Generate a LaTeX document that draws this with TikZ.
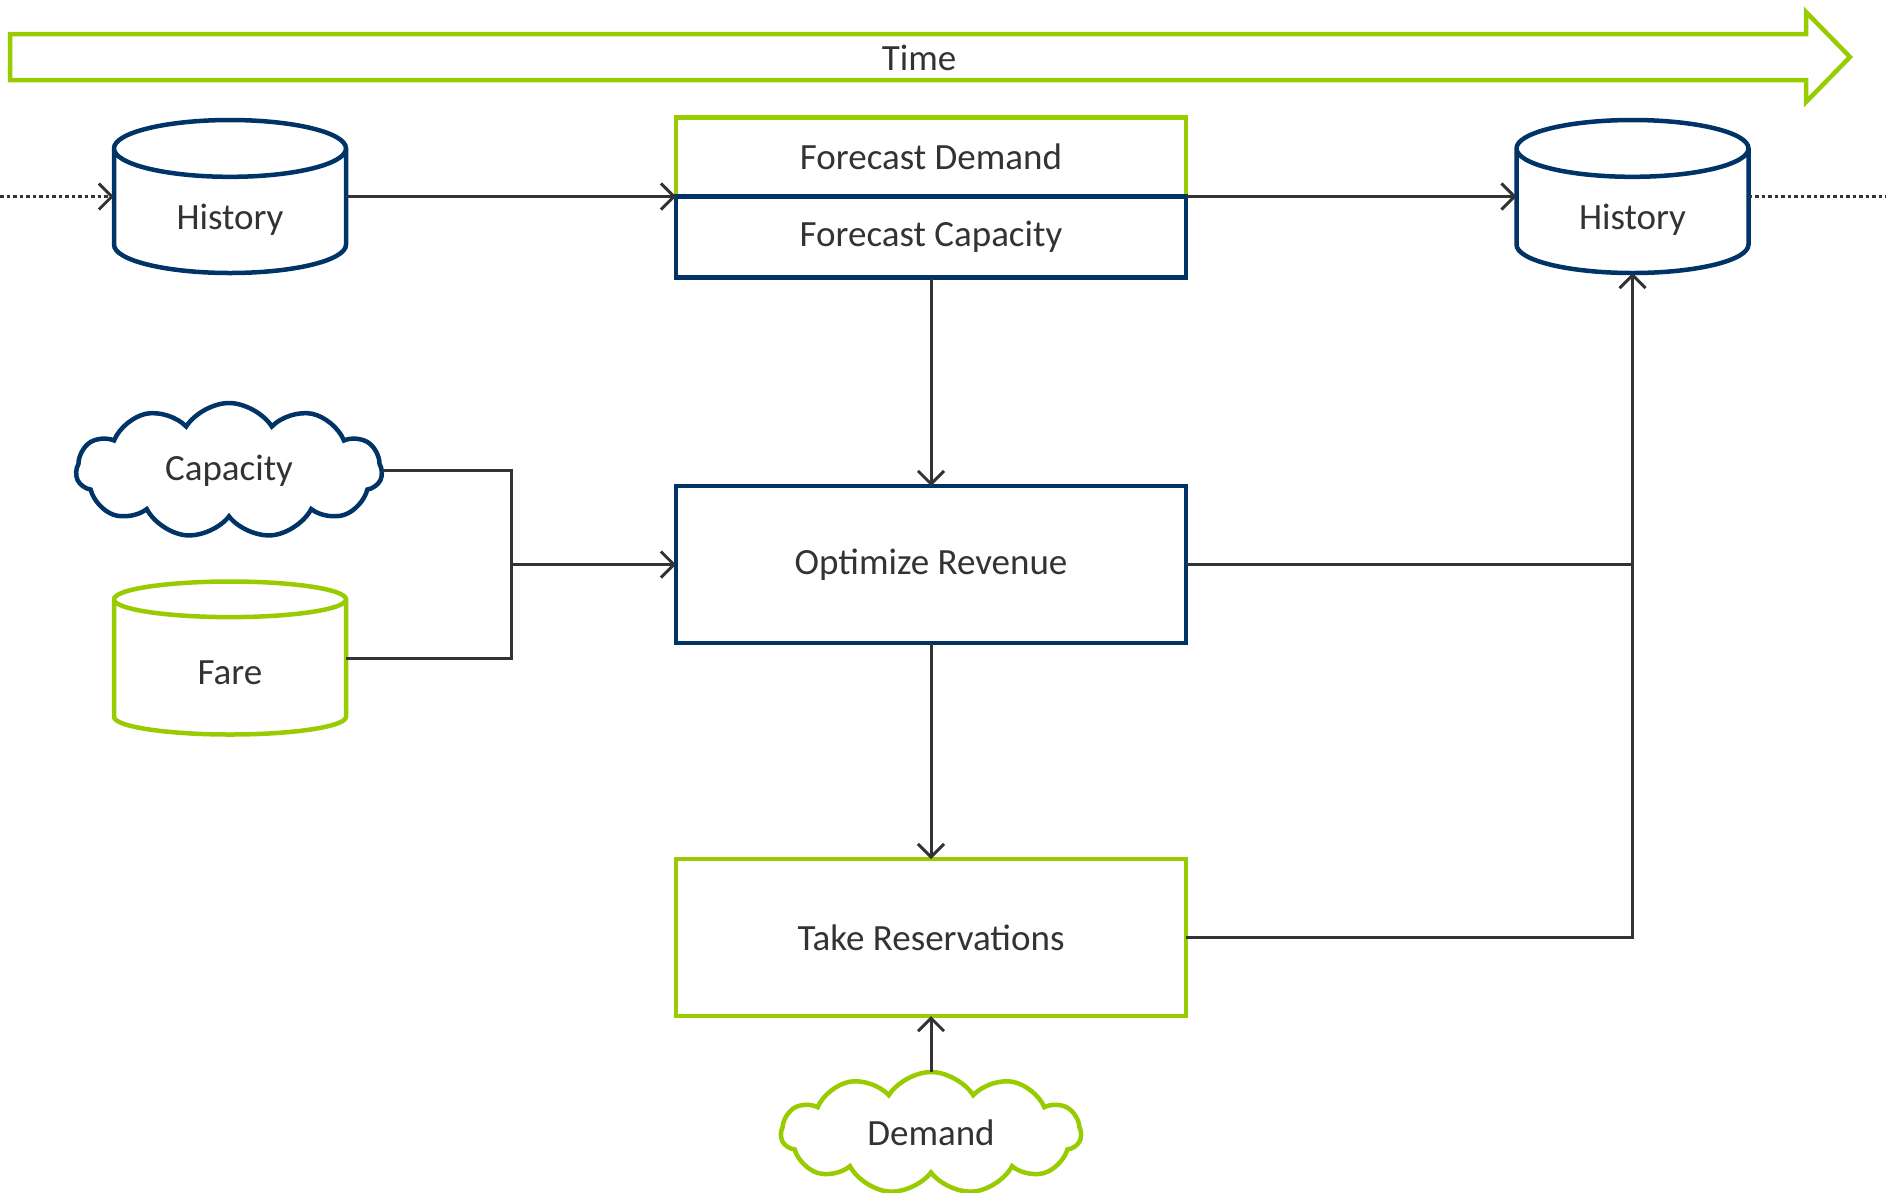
\documentclass[tikz,border=0pt]{standalone}
\usepackage{fontspec}
\setmainfont{Carlito}
\usepackage{xcolor}
\usetikzlibrary{shapes.geometric, shapes.symbols, arrows.meta, positioning}
\definecolor{navy}{RGB}{0,51,102}
\definecolor{lime}{RGB}{153,204,0}
\definecolor{ink}{RGB}{51,51,51}
\tikzset{
  txt/.style={font=\fontsize{37}{44}\selectfont, text=ink},
  box/.style={draw, line width=4.5pt, minimum width=510pt, minimum height=157pt,
              outer sep=0pt, align=center, fill=white, txt},
  navybox/.style={box, draw=navy},
  limebox/.style={box, draw=lime},
  cyl/.style={draw, cylinder, shape border rotate=90, aspect=0.5,
              minimum width=232pt, minimum height=153pt, line width=4.5pt,
              text height=38pt, text depth=9pt,
              outer sep=0pt, fill=white, anchor=shape center, txt},
  cloudbox/.style={draw, cloud, cloud puffs=11, cloud puff arc=115,
                   cloud ignores aspect, minimum width=306pt, minimum height=135pt,
                   line width=4.5pt, outer sep=0pt, fill=white, txt},
  conn/.style={draw=ink, line width=3pt},
  arrow/.style={conn, -{Straight Barb[length=13pt, width=26pt]}},
  dotarrow/.style={arrow, dash pattern=on 3.5pt off 3pt}
}
\begin{document}
\begin{tikzpicture}[x=1pt, y=-1pt]
  \useasboundingbox (0,0) rectangle (1886,1192);

  % Time arrow
  \draw[lime, line width=4.5pt] (10,34) -- (1806,34) -- (1806,12) -- (1850,57)
    -- (1806,102) -- (1806,80) -- (10,80) -- cycle;
  \node[txt] (time) at (919,58) {Time};

  % Forecast
  \node[limebox, minimum height=79pt] (fcd) at (931,157) {Forecast Demand};
  \node[navybox, minimum height=81pt, below=0 of fcd] (fcc) {Forecast Capacity};

  % History
  \node[cyl, draw=navy] (hist1) at (230,196.5) {History};
  \node[cyl, draw=navy] (hist2) at (1632.5,196.5) {History};

  % Inputs
  \node[cloudbox, draw=navy] (cap) at (229,470.5) {Capacity};
  \node[cyl, draw=lime] (fare) at (230,658) {Fare};
  \node[cloudbox, draw=lime, minimum width=300pt, minimum height=122pt] (dem)
    at (931,1133) {Demand};

  % Steps
  \node[navybox] (opt) at (931,564.5) {Optimize Revenue};
  \node[limebox] (tres) at (931,937.5) {Take Reservations};

  \coordinate (lin) at (0,196.5);
  \coordinate (lout) at (1886,196.5);
  \coordinate (jn) at (511,564.5);

  % Arrows
  \draw[dotarrow] (lin) -- (hist1.shape center -| hist1.west);
  \draw[conn, dash pattern=on 3.5pt off 3pt] (hist2.shape center -| hist2.east) -- (lout);
  \draw[arrow] (hist1.shape center -| hist1.east) -- (fcd.south west);
  \draw[arrow] (fcd.south east) -- (hist2.shape center -| hist2.west);
  \draw[arrow] (fcc.south) -- (opt.north);
  \draw[conn] (cap.east) -| (jn);
  \draw[conn] (fare.shape center -| fare.east) -| (jn);
  \draw[arrow] (jn) -- (opt.west);
  \draw[arrow] (opt.south) -- (tres.north);
  \draw[arrow] (dem.north) -- (tres.south);
  \draw[conn] (opt.east) -- (opt.east -| hist2.south);
  \draw[arrow] (tres.east) -| (hist2.south);
\end{tikzpicture}
\end{document}
